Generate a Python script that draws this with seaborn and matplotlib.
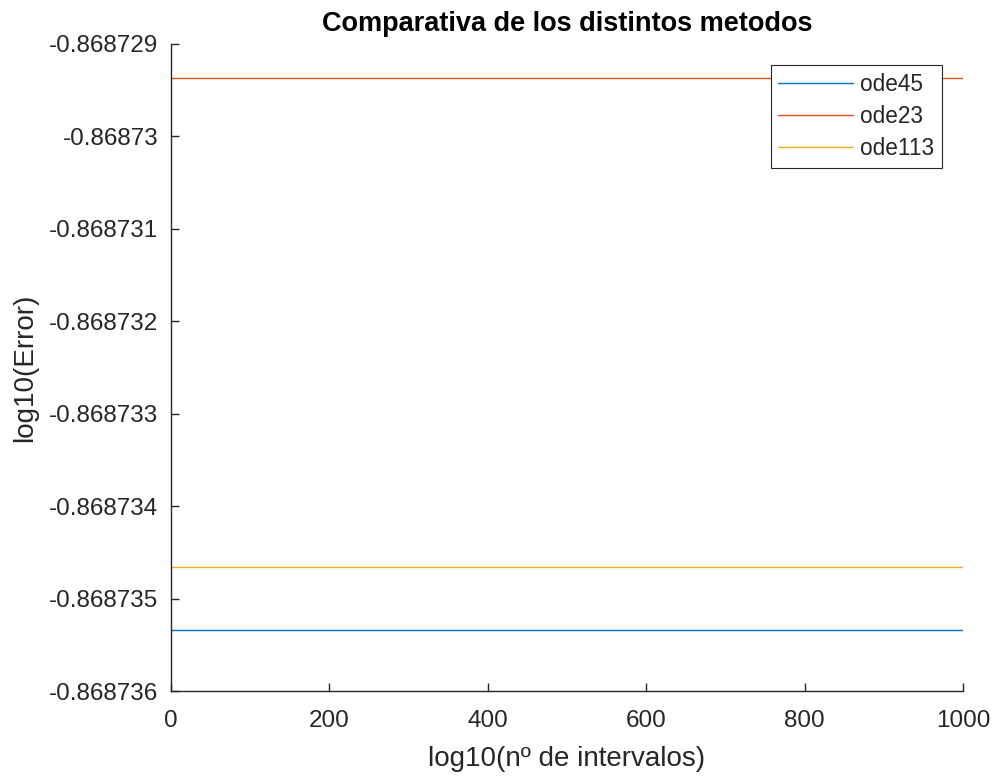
import matplotlib
matplotlib.use("Agg")
import matplotlib.pyplot as plt
import seaborn as sns
import pandas as pd
from matplotlib.ticker import FuncFormatter

# Data
intervals = [0, 1000]
methods = ["ode45", "ode23", "ode113"]
ode45 = [-0.86873534, -0.86873534]
ode23 = [-0.86872937, -0.86872937]
ode113 = [-0.86873466, -0.86873466]
yticks = [-0.868736, -0.868735, -0.868734, -0.868733, -0.868732, -0.868731, -0.86873, -0.868729]
xticks = [0, 200, 400, 600, 800, 1000]

sns.set_theme(style="white")
plt.rcParams['font.family'] = ['Liberation Sans', 'DejaVu Sans']

rows = []
for name, vals in zip(methods, [ode45, ode23, ode113]):
    for x, y in zip(intervals, vals):
        rows.append({"x": x, "y": y, "method": name})
df = pd.DataFrame(rows)

fig = plt.figure(figsize=(9.95, 7.76), dpi=100)
ax = fig.add_axes([0.1719, 0.1095, 0.9678 - 0.1719, 0.9433 - 0.1095])

palette = {"ode45": "#0072BD", "ode23": "#D95319", "ode113": "#EDB120"}
sns.lineplot(data=df, x="x", y="y", hue="method", hue_order=methods,
             palette=palette, linewidth=1.0, ax=ax, legend=True)

ax.set_xlim(0, 1000)
ax.set_ylim(-0.868736, -0.868729)
ax.set_xticks(xticks)
ax.set_yticks(yticks)
ax.yaxis.set_major_formatter(FuncFormatter(lambda v, p: ("%.6f" % v).rstrip('0')))
ax.xaxis.set_major_formatter(FuncFormatter(lambda v, p: "%d" % round(v)))

for s in ["top", "right"]:
    ax.spines[s].set_visible(False)
for s in ["left", "bottom"]:
    ax.spines[s].set_color("#262626")
    ax.spines[s].set_linewidth(1.0)
ax.tick_params(direction="in", length=6, width=1.0, colors="#262626",
               labelsize=17.5, labelcolor="#262626", left=True, bottom=True)
ax.tick_params(axis="y", pad=9)
ax.tick_params(axis="x", pad=14)

ax.set_xlabel("log10(nº de intervalos)", fontsize=20, color="#262626", labelpad=10)
ax.set_ylabel("log10(Error)", fontsize=20, color="#262626", labelpad=8)
ax.set_title("Comparativa de los distintos metodos", fontsize=19.5, fontweight="bold",
             color="black", pad=9)

handles, labels = ax.get_legend_handles_labels()
leg = ax.legend(handles, labels, loc="upper right", bbox_to_anchor=(0.9735, 0.9675),
                fontsize=16.3, frameon=True, fancybox=False, edgecolor="#262626",
                framealpha=1, handlelength=3.3, borderpad=0.35, labelspacing=0.4,
                handletextpad=0.3, borderaxespad=0)
leg.get_frame().set_linewidth(0.8)

fig.savefig("out.png", dpi=100)
